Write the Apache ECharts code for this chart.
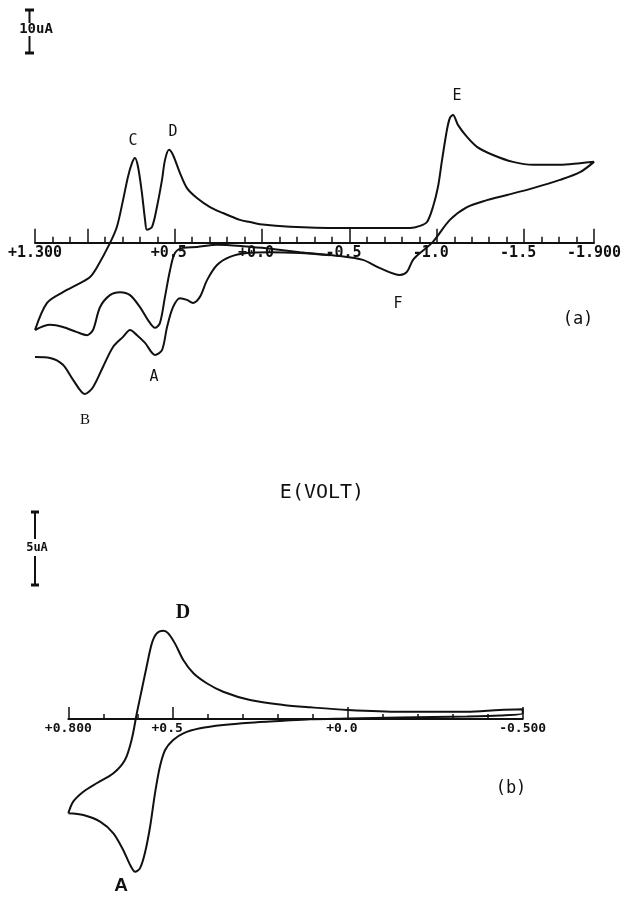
<!DOCTYPE html>
<html>
<head>
<meta charset="utf-8">
<script src="https://cdn.jsdelivr.net/npm/echarts@6/dist/echarts.min.js"></script>
<style>
html, body { margin: 0; padding: 0; background: #fff; }
#cv { width: 631px; height: 900px; }
</style>
</head>
<body>
<div id="cv"></div>
<script>
// (a) full cycle +1.3 -> -1.9 -> +1.3, E in volt, I in uA
const scanA1E = [1.300, 1.214, 1.140, 1.060, 1.002, 0.968, 0.928, 0.871, 0.813, 0.756, 0.699, 0.653, 0.613, 0.585, 0.556, 0.527, 0.499, 0.453, 0.373, 0.258, 0.109, 0.001, -0.217, -0.446, -0.577, -0.675, -0.789, -0.829, -0.864, -0.904, -0.978, -1.075, -1.173, -1.287, -1.402, -1.551, -1.705, -1.820, -1.900,
  -1.820, -1.705, -1.551, -1.436, -1.322, -1.230, -1.173, -1.121, -1.093, -1.075, -1.058, -1.030, -1.007, -0.978, -0.944, -0.904, -0.847, -0.732, -0.446, -0.160, 0.012, 0.069, 0.127, 0.224, 0.298, 0.373, 0.430, 0.470, 0.510, 0.533, 0.556, 0.573, 0.602, 0.630, 0.659, 0.670, 0.688, 0.710, 0.728, 0.745, 0.768, 0.796, 0.831, 0.871, 0.945, 0.985, 1.042, 1.140, 1.231, 1.300]
const scanA1I = [-20.3, -19.1, -19.6, -20.8, -21.5, -20.3, -15.0, -12.2, -11.5, -12.2, -15.0, -18.0, -19.8, -18.7, -12.6, -6.4, -2.4, -1.2, -1.0, -0.5, -0.8, -1.2, -2.2, -3.1, -4.0, -5.9, -7.5, -6.8, -4.0, -2.4, 0.2, 5.3, 8.3, 9.9, 11.1, 12.7, 14.6, 16.4, 18.8,
  18.5, 18.1, 18.1, 18.8, 20.4, 22.3, 24.6, 27.4, 29.7, 29.0, 26.2, 19.2, 13.0, 8.3, 4.8, 3.9, 3.4, 3.4, 3.4, 3.7, 4.3, 4.8, 5.3, 6.9, 8.3, 10.4, 12.7, 16.2, 20.4, 21.6, 19.2, 14.6, 8.3, 3.7, 3.0, 5.3, 11.6, 17.6, 19.7, 18.5, 15.3, 9.9, 3.7, -0.1, -5.7, -8.0, -9.4, -11.5, -14.0, -20.3]
// (a) second sweep with peaks B and A
const scanA2E = [1.300, 1.214, 1.140, 1.082, 1.014, 0.968, 0.911, 0.854, 0.796, 0.756, 0.716, 0.670, 0.613, 0.573, 0.544, 0.510, 0.470, 0.430, 0.396, 0.356, 0.315, 0.258, 0.184, 0.087, -0.045, -0.217, -0.389]
const scanA2I = [-26.6, -26.8, -28.4, -31.9, -35.2, -33.6, -28.9, -24.3, -21.9, -20.3, -21.5, -23.3, -26.1, -25.0, -19.6, -15.0, -12.9, -13.3, -14.0, -12.6, -8.7, -5.2, -3.3, -2.4, -2.2, -2.4, -2.9]
// (b) +0.8 -> -0.5 -> +0.8
const scanBE = [0.800, 0.757, 0.709, 0.671, 0.643, 0.623, 0.609, 0.595, 0.581, 0.566, 0.552, 0.538, 0.523, 0.500, 0.471, 0.423, 0.357, 0.280, 0.185, 0.108, 0.000, -0.149, -0.340, -0.435, -0.500,
  -0.500, -0.435, -0.340, -0.149, 0.000, 0.108, 0.185, 0.280, 0.357, 0.404, 0.442, 0.471, 0.495, 0.514, 0.528, 0.547, 0.561, 0.576, 0.590, 0.604, 0.619, 0.638, 0.671, 0.719, 0.757, 0.786, 0.800]
const scanBI = [-6.46, -6.58, -7.03, -7.83, -8.97, -10.0, -10.46, -10.23, -9.2, -7.38, -5.09, -3.27, -2.12, -1.44, -0.98, -0.64, -0.41, -0.25, -0.12, -0.02, 0.03, 0.10, 0.17, 0.24, 0.39,
  0.66, 0.62, 0.50, 0.50, 0.62, 0.80, 0.96, 1.30, 1.87, 2.45, 3.13, 4.04, 5.18, 5.87, 6.05, 5.87, 5.18, 3.58, 1.99, 0.39, -1.44, -2.81, -3.72, -4.4, -4.98, -5.66, -6.46]

const topMajor = [1.3, 1.0, 0.5, 0, -0.5, -1.0, -1.5, -1.9]
const topLabelValues = [1.3, 0.5, 0, -0.5, -1.0, -1.5, -1.9]
const topLabelText = ['+1.300', '+0.5', '+0.0', '-0.5', '-1.0', '-1.5', '-1.900']
const botMajor = [0.8, 0.5, 0, -0.5]
const botLabelValues = [0.8, 0.5, 0, -0.5]
const botLabelText = ['+0.800', '+0.5', '+0.0', '-0.500']

const INK = '#111'
const MONO = "'DejaVu Sans Mono', monospace"

function pairs (es, is) {
  return es.map((e, k) => [e, is[k]])
}

function labelFmt (values, texts) {
  return function (v) {
    const k = values.findIndex(t => Math.abs(t - v) < 1e-6)
    if (k < 0) return ''
    const tag = (k === 0 || k === values.length - 1) ? 'e' : 'm'
    return '{' + tag + '|' + texts[k] + '}'
  }
}

// axis with the small 0.1 V ticks and the line itself
function minorAxis (grid, min, max, len) {
  return {
    gridIndex: grid, type: 'value', position: 'bottom', inverse: true,
    min: min, max: max, interval: 0.1,
    axisLine: { show: true, onZero: false, lineStyle: { color: INK, width: 2 } },
    axisTick: { show: true, inside: true, length: len, lineStyle: { color: INK, width: 1.5 } },
    axisLabel: { show: false },
    splitLine: { show: false }
  }
}

// axis with the tall ticks and the labels
function majorAxis (grid, min, max, len, ticks, values, texts, size) {
  const txt = { fontFamily: MONO, fontSize: size, fontWeight: 'bold', color: INK }
  return {
    gridIndex: grid, type: 'value', position: 'bottom', inverse: true,
    min: min, max: max,
    axisLine: { show: false, onZero: false },
    axisTick: { show: true, inside: true, length: len, customValues: ticks, lineStyle: { color: INK, width: 1.5 } },
    axisLabel: {
      show: true, customValues: values, margin: 3,
      formatter: labelFmt(values, texts),
      rich: {
        e: Object.assign({}, txt),
        m: Object.assign({ padding: [0, 12, 0, 0] }, txt)
      }
    },
    splitLine: { show: false }
  }
}

function hiddenX (grid, min, max) {
  return { gridIndex: grid, type: 'value', inverse: true, min: min, max: max, show: false }
}

function hiddenY (grid, min, max) {
  return { gridIndex: grid, type: 'value', min: min, max: max, show: false }
}

function curve (x, y, es, is) {
  return {
    type: 'line', xAxisIndex: x, yAxisIndex: y,
    data: pairs(es, is),
    showSymbol: false, smooth: 0.3, silent: true,
    lineStyle: { color: INK, width: 2 }
  }
}

function label (text, x, y, font) {
  return {
    type: 'text', x: x, y: y,
    style: { text: text, font: font, fill: INK, align: 'center', verticalAlign: 'middle' }
  }
}

function seg (x1, y1, x2, y2, w) {
  return { type: 'line', shape: { x1: x1, y1: y1, x2: x2, y2: y2 }, style: { stroke: INK, lineWidth: w } }
}

let chart = echarts.init(document.getElementById('cv'), null, { renderer: 'canvas' })
chart.setOption({
  animation: false,
  backgroundColor: '#fff',
  grid: [
    { left: 35, top: 70.7, width: 559, height: 344 },
    { left: 35, top: 222.7, width: 559, height: 20 },
    { left: 35, top: 222.7, width: 559, height: 20 },
    { left: 68.3, top: 602.2, width: 454.4, height: 292 },
    { left: 68.3, top: 699, width: 454.4, height: 20 },
    { left: 68.3, top: 699, width: 454.4, height: 20 }
  ],
  xAxis: [
    hiddenX(0, -1.9, 1.3),
    minorAxis(1, -1.9, 1.3, 6),
    majorAxis(2, -1.9, 1.3, 14, topMajor, topLabelValues, topLabelText, 15),
    hiddenX(3, -0.5, 0.8),
    minorAxis(4, -0.5, 0.8, 5),
    majorAxis(5, -0.5, 0.8, 12, botMajor, botLabelValues, botLabelText, 13)
  ],
  yAxis: [
    hiddenY(0, -40, 40),
    hiddenY(1, 0, 1),
    hiddenY(2, 0, 1),
    hiddenY(3, -12, 8),
    hiddenY(4, 0, 1),
    hiddenY(5, 0, 1)
  ],
  series: [
    curve(0, 0, scanA1E, scanA1I),
    curve(0, 0, scanA2E, scanA2I),
    curve(3, 3, scanBE, scanBI)
  ],
  graphic: [
    // 10uA bar
    seg(29.5, 10, 29.5, 23, 2), seg(29.5, 36, 29.5, 53, 2),
    seg(25, 10, 34, 10, 3), seg(25, 53, 34, 53, 3),
    label('10uA', 36, 29.5, 'bold 14px ' + MONO),
    // 5uA bar
    seg(35, 512, 35, 539, 2), seg(35, 556, 35, 585, 2),
    seg(31, 512, 39, 512, 3), seg(31, 585, 39, 585, 3),
    label('5uA', 37, 547.5, 'bold 12px ' + MONO),
    // peak letters (a)
    label('C', 133, 141, '15px ' + MONO),
    label('D', 173, 132, '15px ' + MONO),
    label('E', 457, 96, '15px ' + MONO),
    label('F', 398, 304, '15px ' + MONO),
    label('A', 154, 377, '15px ' + MONO),
    label('B', 85, 420, "15px 'Liberation Serif', serif"),
    label('(a)', 578, 320, '17px ' + MONO),
    label('E(VOLT)', 322, 493, '20px ' + MONO),
    // peak letters (b)
    label('D', 183, 613, "bold 20px 'Liberation Serif', serif"),
    label('A', 121, 886, "bold 19px 'Liberation Sans', sans-serif"),
    label('(b)', 511, 789, '17px ' + MONO)
  ]
})
</script>
</body>
</html>
